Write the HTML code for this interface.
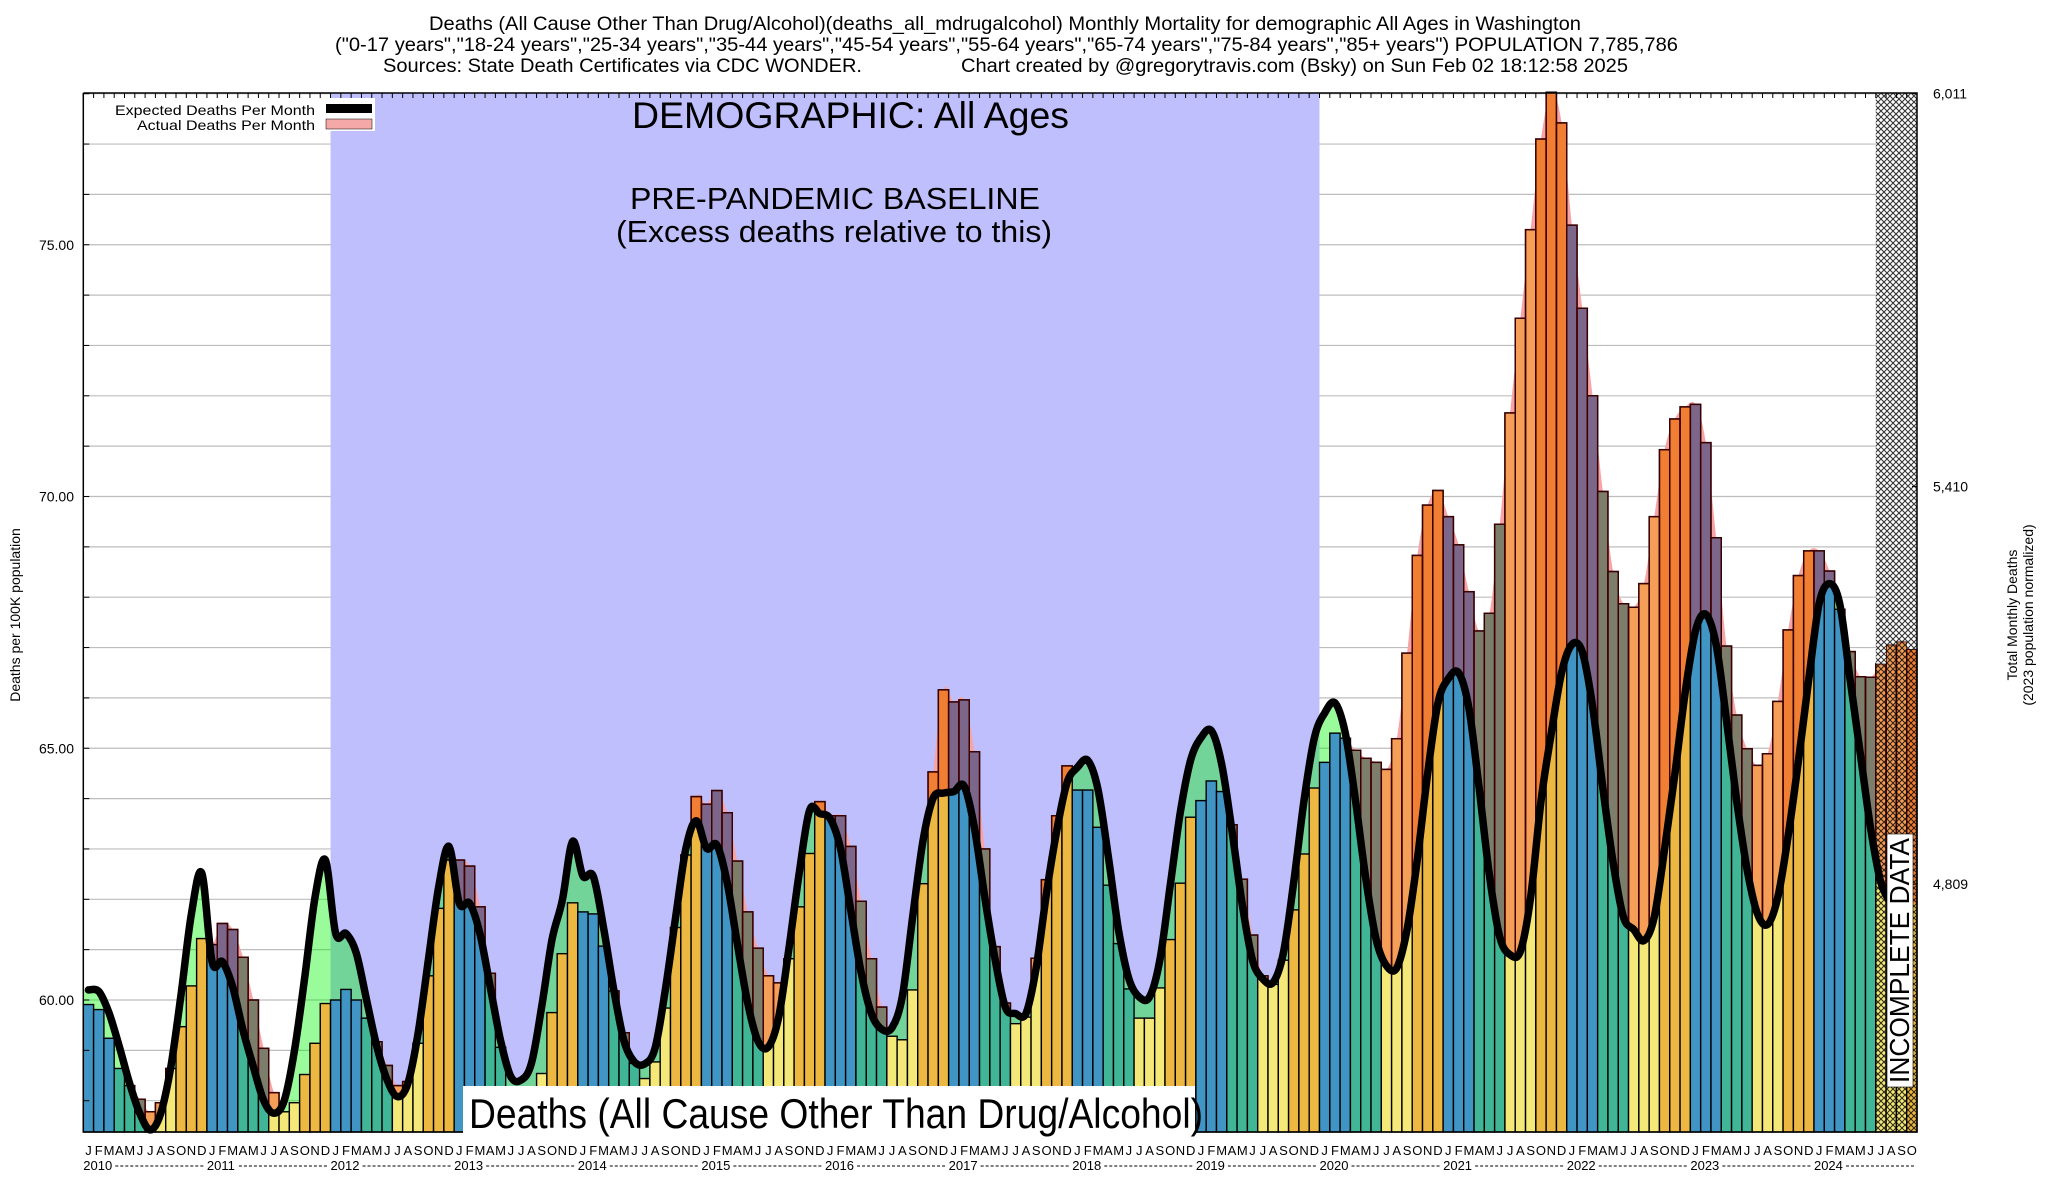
<!DOCTYPE html>
<html><head><meta charset="utf-8"><title>Deaths Monthly Mortality Washington</title>
<style>
html,body{margin:0;padding:0;background:#fff;}
svg{display:block;font-family:"Liberation Sans",sans-serif;}
</style></head>
<body>
<svg id="chart" xmlns="http://www.w3.org/2000/svg" width="2048" height="1200" viewBox="0 0 2048 1200">
<defs>
<pattern id="hatch" patternUnits="userSpaceOnUse" width="6" height="6">
<path d="M0,0 L6,6 M6,0 L0,6" stroke="#000" stroke-width="1.1"/>
</pattern>
</defs>
<rect x="0" y="0" width="2048" height="1200" fill="#fff"/>
<g id="title" font-size="19" fill="#000" text-anchor="start">
<text x="429" y="30" textLength="1152" lengthAdjust="spacingAndGlyphs">Deaths (All Cause Other Than Drug/Alcohol)(deaths_all_mdrugalcohol) Monthly Mortality for demographic All Ages in Washington</text>
<text x="335" y="51" textLength="1343" lengthAdjust="spacingAndGlyphs">("0-17 years","18-24 years","25-34 years","35-44 years","45-54 years","55-64 years","65-74 years","75-84 years","85+ years") POPULATION 7,785,786</text>
<text x="383" y="72" textLength="479" lengthAdjust="spacingAndGlyphs">Sources: State Death Certificates via CDC WONDER.</text>
<text x="961" y="72" textLength="667" lengthAdjust="spacingAndGlyphs">Chart created by @gregorytravis.com (Bsky) on Sun Feb 02 18:12:58 2025</text>
</g>
<g id="grid"></g>
<rect id="baseline" fill="#bfbffe"/>
<g id="marks"></g>
<g id="axes"></g>
<g>
<rect x="87" y="98" width="288" height="33" fill="#fff"/>
<text x="315" y="115" font-size="14" text-anchor="end" textLength="200" lengthAdjust="spacingAndGlyphs">Expected Deaths Per Month</text>
<rect x="326" y="104" width="46" height="9" fill="#000"/>
<text x="315" y="130" font-size="14" text-anchor="end" textLength="178" lengthAdjust="spacingAndGlyphs">Actual Deaths Per Month</text>
<rect x="326" y="119" width="46" height="10" fill="#f4a8a8" stroke="#000" stroke-width="0.5"/>
</g>
<text x="632" y="128" font-size="37" textLength="437" lengthAdjust="spacingAndGlyphs">DEMOGRAPHIC: All Ages</text>
<text x="630" y="209" font-size="31" textLength="410" lengthAdjust="spacingAndGlyphs">PRE-PANDEMIC BASELINE</text>
<text x="616" y="242" font-size="31" textLength="436" lengthAdjust="spacingAndGlyphs">(Excess deaths relative to this)</text>
<g>
<rect x="463" y="1086" width="732" height="48" fill="#fff"/>
<text x="469" y="1128" font-size="42" textLength="734" lengthAdjust="spacingAndGlyphs">Deaths (All Cause Other Than Drug/Alcohol)</text>
</g>
<g>
<rect x="1887" y="834" width="26" height="253" fill="#fff" stroke="#000" stroke-width="0.6"/>
<text transform="translate(1909,1083) rotate(-90)" font-size="28" textLength="245" lengthAdjust="spacingAndGlyphs">INCOMPLETE DATA</text>
</g>
<text transform="translate(20,615) rotate(-90)" font-size="14" text-anchor="middle">Deaths per 100K population</text>
<text transform="translate(2017,615) rotate(-90)" font-size="14" text-anchor="middle">Total Monthly Deaths</text>
<text transform="translate(2033,615) rotate(-90)" font-size="14" text-anchor="middle">(2023 population normalized)</text>
</svg>
<script>
const actualDeaths = [
59.91,59.81,59.24,58.64,58.30,58.03,57.78,57.96,58.64,59.47,60.28,61.22,
61.10,61.52,61.40,60.85,60.00,59.04,58.16,57.78,57.96,58.52,59.14,59.93,
60.00,60.21,60.00,59.64,59.17,58.70,58.30,58.38,59.14,60.48,61.82,62.78,
62.78,62.66,61.85,60.53,59.06,58.00,57.48,57.60,58.54,59.75,60.92,61.93,
61.75,61.71,61.07,60.18,59.35,58.74,58.44,58.77,59.84,61.44,62.88,64.04,
63.89,64.16,63.72,62.76,61.75,61.03,60.48,60.34,60.82,61.85,62.91,63.94,
63.66,63.66,63.05,61.96,60.82,59.86,59.28,59.21,60.20,62.31,64.53,66.16,
65.92,65.96,64.93,63.00,61.06,59.94,59.53,59.66,60.83,62.39,63.66,64.65,
64.17,64.17,63.43,62.28,61.12,60.22,59.64,59.64,60.24,61.20,62.32,63.63,
63.96,64.35,64.14,63.48,62.40,61.29,60.48,60.31,60.79,61.79,62.90,64.21,
64.72,65.30,65.20,64.96,64.80,64.72,64.58,65.19,66.89,68.83,69.83,70.12,
69.60,69.04,68.11,67.33,67.68,69.45,71.66,73.54,75.30,77.10,78.03,77.42,
75.39,73.74,72.00,70.10,68.51,67.87,67.80,68.27,69.60,70.93,71.54,71.78,
71.83,71.07,69.18,67.03,65.66,64.99,64.66,64.89,65.93,67.35,68.43,68.92,
68.92,68.52,67.76,66.92,66.42,66.41,66.68,67.06,67.12,66.97];
const expectedDeaths = [
60.20,60.17,59.74,59.07,58.34,57.74,57.42,57.74,58.68,60.13,61.72,62.52,
60.76,60.76,60.26,59.40,58.68,58.01,57.75,58.00,59.00,60.46,62.05,62.78,
61.32,61.32,60.93,60.00,59.07,58.41,58.08,58.34,59.34,60.80,62.25,63.05,
61.92,61.92,61.32,60.26,59.20,58.48,58.41,58.74,59.87,61.20,61.98,63.15,
62.46,62.46,61.44,60.20,59.18,58.77,58.73,59.04,60.20,61.64,63.01,63.56,
63.01,63.08,62.33,61.10,59.93,59.18,59.07,59.66,61.03,62.53,63.77,63.70,
63.60,63.01,61.78,60.55,59.73,59.42,59.45,60.07,61.64,63.15,64.01,64.11,
64.14,64.25,63.42,62.05,60.82,59.86,59.73,59.73,60.64,62.12,63.37,64.32,
64.62,64.76,64.18,62.85,61.38,60.42,60.06,60.06,60.79,62.26,63.74,64.77,
65.21,65.35,64.69,63.37,61.90,60.79,60.42,60.35,60.94,62.34,63.96,65.21,
65.70,65.90,65.30,63.95,62.40,61.20,60.68,60.64,61.40,62.80,64.50,65.90,
66.38,66.50,65.80,64.20,62.47,61.25,60.90,60.97,62.05,63.95,65.30,66.50,
67.06,66.92,65.84,64.22,62.73,61.65,61.40,61.18,61.65,63.00,64.49,66.11,
67.33,67.66,67.06,65.57,63.95,62.60,61.72,61.50,62.05,63.27,64.76,66.38,
67.87,68.27,67.87,66.38,64.89,63.41,62.33,61.92];
const monthLetters = ["J","F","M","A","M","J","J","A","S","O","N","D"];
const yearLabels = ["2010","2011","2012","2013","2014","2015","2016","2017","2018","2019","2020","2021","2022","2023","2024"];
const leftTicks = [60,65,70,75];
const leftTickLabels = ["60.00","65.00","70.00","75.00"];
const rightTickLabels = ["6,011","5,410","4,809"];
const rightTickValues = [78.0,70.2,62.3];
const baselineStartMonth = 24, baselineEndMonth = 120, incompleteStartMonth = 174;

const NS = "http://www.w3.org/2000/svg";
const L = 83.3, R = 1917, T = 93, B = 1132;
const N = 178;
const bw = (R - L) / N;
const xs = i => L + i * bw;
const xc = i => L + (i + 0.5) * bw;
const ys = v => 1000 - (v - 60) * 50.35;
const seasonColor = m => ["#4095c5","#40b696","#f4e878","#edb842"][Math.floor(m / 3)];
function mk(tag, attrs, parent) {
  const e = document.createElementNS(NS, tag);
  for (const k in attrs) e.setAttribute(k, attrs[k]);
  parent.appendChild(e);
  return e;
}
function smoothSegs(pts) {
  let d = "";
  for (let i = 0; i < pts.length - 1; i++) {
    const p0 = pts[Math.max(0, i - 1)], p1 = pts[i], p2 = pts[i + 1], p3 = pts[Math.min(pts.length - 1, i + 2)];
    const c1x = p1[0] + (p2[0] - p0[0]) / 6, c1y = p1[1] + (p2[1] - p0[1]) / 6;
    const c2x = p2[0] - (p3[0] - p1[0]) / 6, c2y = p2[1] - (p3[1] - p1[1]) / 6;
    d += ` C${c1x.toFixed(1)},${c1y.toFixed(1)} ${c2x.toFixed(1)},${c2y.toFixed(1)} ${p2[0].toFixed(1)},${p2[1].toFixed(1)}`;
  }
  return d;
}
const svg = document.getElementById("chart");
const defs = svg.querySelector("defs");
const grid = document.getElementById("grid");
for (let v = 58; v <= 78; v++) {
  const gl = mk("line", {x1: L, x2: R, y1: ys(v), y2: ys(v), stroke: "#bdbdbd", "stroke-width": 1.2}, grid);
  
  
}
const base = document.getElementById("baseline");
base.setAttribute("x", xs(baselineStartMonth));
base.setAttribute("y", T);
base.setAttribute("width", xs(baselineEndMonth) - xs(baselineStartMonth));
base.setAttribute("height", B - T);

const marks = document.getElementById("marks");
const expPts = expectedDeaths.map((v, i) => [xc(i), ys(v)]);
const first = expPts[0], last = expPts[expPts.length - 1];
const lineD = `M${first[0]},${first[1]}` + smoothSegs(expPts);
const cp = mk("clipPath", {id: "aboveLine"}, defs);
mk("path", {d: `M${L},${T} L${L},${first[1]} L${first[0]},${first[1]}` + smoothSegs(expPts) + ` L${R},${last[1]} L${R},${T} Z`}, cp);
const green = mk("path", {d: `M${L},${B} L${L},${first[1]} L${first[0]},${first[1]}` + smoothSegs(expPts) + ` L${last[0]},${B} Z`, fill: "rgba(0,245,0,0.4)"}, marks);


const actPts = actualDeaths.map((v, i) => [xc(i), ys(v)]);
const pink = mk("path", {d: `M${L},${B} L${L},${actPts[0][1]} L${actPts[0][0]},${actPts[0][1]}` + smoothSegs(actPts) + ` L${R},${actPts[N-1][1]} L${R},${B} Z`, fill: "#f7a4a6", "clip-path": "url(#aboveLine)"}, marks);


const barsG = mk("g", {}, marks);


const overG = mk("g", {"clip-path": "url(#aboveLine)"}, marks);


actualDeaths.forEach((v, i) => {
  const y = ys(v);
  const b = mk("rect", {x: xs(i), y: y, width: bw, height: B - y, fill: seasonColor(i % 12), stroke: "#000", "stroke-width": 1.4}, barsG);
  
  
  const o = mk("rect", {x: xs(i), y: y, width: bw, height: B - y, fill: "rgba(245,10,20,0.33)", stroke: "#3a0000", "stroke-width": 1.4}, overG);
  
  
});
const line = mk("path", {d: lineD, fill: "none", stroke: "#000", "stroke-width": 7.5, "stroke-linejoin": "round", "stroke-linecap": "round"}, marks);


for (let i = incompleteStartMonth; i < N; i++) {
  const hw = mk("rect", {x: xs(i), y: T, width: bw, height: ys(actualDeaths[i]) - T, fill: "#fff"}, marks);
  
  
}
const hatch = mk("rect", {x: xs(incompleteStartMonth), y: T, width: R - xs(incompleteStartMonth), height: B - T, fill: "url(#hatch)", opacity: 0.8}, marks);



const axes = document.getElementById("axes");
const frame = mk("path", {d: `M${L},${T} L${L},${B} L${R},${B} L${R},${T} L${L},${T}`, fill: "none", stroke: "#000", "stroke-width": 1.5}, axes);


for (let v = 58; v <= 78; v++) {
  const t = mk("line", {x1: L, x2: L + 6, y1: ys(v), y2: ys(v), stroke: "#000", "stroke-width": 1}, axes);
  
  
}
leftTicks.forEach((v, k) => {
  const t = mk("text", {x: 74, y: ys(v) + 5, "font-size": 14, "text-anchor": "end"}, axes);
  t.textContent = leftTickLabels[k];
  
  
});
rightTickValues.forEach((v, k) => {
  const t = mk("text", {x: 1933, y: ys(v) + 5, "font-size": 14}, axes);
  t.textContent = rightTickLabels[k];
  
  
  mk("line", {x1: R - 5, x2: R, y1: ys(v), y2: ys(v), stroke: "#000"}, axes);
});
for (let i = 0; i <= N; i++) {
  mk("line", {x1: xs(i), x2: xs(i), y1: T, y2: T + 5, stroke: "#000", "stroke-width": 1}, axes);
}
for (let i = 0; i < N; i++) {
  const t = mk("text", {x: xc(i), y: 1155, "font-size": 13, "text-anchor": "middle"}, axes);
  t.textContent = monthLetters[i % 12];
  
  
}
yearLabels.forEach((yl, k) => {
  const x0 = xs(k * 12);
  const t = mk("text", {x: x0, y: 1170, "font-size": 13}, axes);
  t.textContent = yl;
  
  
  const xe = Math.min(xs((k + 1) * 12), R) - 3;
  mk("line", {x1: x0 + 32, x2: xe, y1: 1166, y2: 1166, stroke: "#000", "stroke-width": 1, "stroke-dasharray": "3,2"}, axes);
});
</script>
</body></html>
